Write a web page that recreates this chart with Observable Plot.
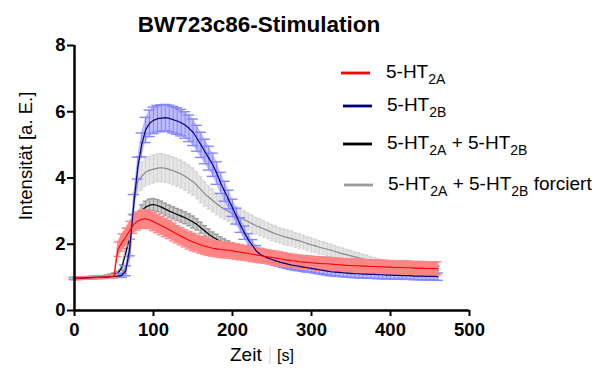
<!DOCTYPE html>
<html>
<head>
<meta charset="utf-8">
<script src="https://cdn.jsdelivr.net/npm/d3@7"></script>
<script src="https://cdn.jsdelivr.net/npm/@observablehq/plot@0.6"></script>
<style>
  html, body { margin: 0; padding: 0; background: #fff; }
  svg { display: block; }
</style>
</head>
<body>
<div id="chart"></div>
<script>
// ---- data ----
const titleText = "BW723c86-Stimulation";
const xTicks = [0, 100, 200, 300, 400, 500];
const yTicks = [0, 2, 4, 6, 8];
const seriesNames = ["5-HT2A", "5-HT2B", "5-HT2A + 5-HT2B", "5-HT2A + 5-HT2B forciert"];

const time = [
  0,5,10,15,20,25,30,35,40,45,
  50,55,60,65,70,75,80,85,90,95,
  100,105,110,115,120,125,130,135,140,145,
  150,155,160,165,170,175,180,185,190,195,
  200,205,210,215,220,225,230,235,240,245,
  250,255,260,265,270,275,280,285,290,295,
  300,305,310,315,320,325,330,335,340,345,
  350,355,360,365,370,375,380,385,390,395,
  400,405,410,415,420,425,430,435,440,445,
  450,455,460
];

// 5-HT2A (red)
const ht2a = [
  0.96,0.97,0.98,0.98,0.99,0.99,1.00,1.00,1.01,1.02,
  1.03,1.85,2.05,2.22,2.42,2.60,2.70,2.75,2.77,2.74,
  2.68,2.62,2.56,2.50,2.44,2.37,2.30,2.24,2.18,2.12,
  2.07,2.02,1.98,1.94,1.91,1.88,1.86,1.84,1.83,1.82,
  1.80,1.78,1.76,1.74,1.72,1.70,1.68,1.66,1.64,1.62,
  1.60,1.58,1.56,1.54,1.52,1.50,1.49,1.47,1.46,1.45,
  1.44,1.43,1.42,1.41,1.41,1.40,1.39,1.38,1.37,1.36,
  1.36,1.35,1.35,1.34,1.34,1.33,1.33,1.32,1.32,1.31,
  1.31,1.30,1.30,1.30,1.29,1.29,1.28,1.28,1.28,1.27,
  1.27,1.27,1.27
];
const ht2aErr = [
  0.04,0.04,0.04,0.04,0.04,0.04,0.04,0.04,0.04,0.04,
  0.05,0.22,0.26,0.27,0.27,0.27,0.27,0.27,0.27,0.27,
  0.27,0.27,0.27,0.27,0.27,0.27,0.26,0.26,0.26,0.26,
  0.26,0.25,0.25,0.25,0.25,0.24,0.24,0.24,0.24,0.23,
  0.23,0.23,0.23,0.22,0.22,0.22,0.22,0.22,0.21,0.21,
  0.21,0.21,0.21,0.21,0.20,0.20,0.20,0.20,0.20,0.20,
  0.20,0.20,0.20,0.20,0.20,0.20,0.20,0.20,0.20,0.20,
  0.20,0.20,0.20,0.20,0.20,0.20,0.20,0.20,0.20,0.20,
  0.20,0.20,0.20,0.20,0.20,0.20,0.20,0.20,0.20,0.20,
  0.20,0.20,0.20
];

// 5-HT2B (blue)
const ht2b = [
  0.97,0.98,0.98,0.99,0.99,1.00,1.00,1.01,1.01,1.02,
  1.03,1.04,1.06,1.20,1.90,3.20,4.30,5.00,5.45,5.65,
  5.74,5.79,5.81,5.82,5.80,5.76,5.72,5.67,5.60,5.50,
  5.38,5.20,5.00,4.80,4.60,4.40,4.15,3.85,3.60,3.35,
  3.10,2.85,2.58,2.35,2.14,1.97,1.80,1.70,1.63,1.58,
  1.54,1.50,1.46,1.43,1.40,1.37,1.35,1.33,1.31,1.29,
  1.27,1.25,1.23,1.21,1.19,1.17,1.16,1.15,1.14,1.13,
  1.12,1.11,1.11,1.10,1.10,1.09,1.09,1.08,1.08,1.07,
  1.07,1.06,1.06,1.05,1.05,1.05,1.04,1.04,1.04,1.03,
  1.03,1.03,1.02
];
const ht2bErr = [
  0.03,0.03,0.03,0.03,0.03,0.03,0.03,0.03,0.03,0.03,
  0.03,0.04,0.06,0.15,0.25,0.30,0.33,0.36,0.38,0.40,
  0.40,0.40,0.40,0.40,0.40,0.40,0.40,0.40,0.40,0.40,
  0.40,0.39,0.38,0.37,0.36,0.35,0.34,0.32,0.30,0.28,
  0.26,0.24,0.22,0.20,0.18,0.17,0.16,0.15,0.14,0.14,
  0.13,0.13,0.13,0.13,0.13,0.13,0.13,0.13,0.13,0.13,
  0.12,0.12,0.12,0.12,0.12,0.12,0.12,0.12,0.12,0.12,
  0.12,0.12,0.12,0.12,0.12,0.12,0.12,0.12,0.12,0.12,
  0.11,0.11,0.11,0.11,0.11,0.11,0.11,0.11,0.11,0.11,
  0.11,0.11,0.11
];

// 5-HT2A + 5-HT2B (black)
const both = [
  0.97,0.98,0.98,0.99,1.00,1.00,1.01,1.02,1.04,1.07,
  1.10,1.13,1.30,1.75,2.20,2.55,2.80,3.02,3.12,3.18,
  3.20,3.17,3.12,3.06,3.00,2.95,2.90,2.85,2.80,2.74,
  2.67,2.60,2.50,2.40,2.30,2.22,2.15,2.08,2.02,1.96,
  1.91,1.86,1.82,1.78,1.74,1.70,1.66,1.63,1.60,1.57,
  1.55,1.53,1.51,1.49,1.47,1.45,1.44,1.42,1.41,1.40,
  1.39,1.38,1.37,1.36,1.35,1.34,1.33,1.32,1.32,1.31,
  1.30,1.30,1.29,1.29,1.28,1.28,1.27,1.27,1.26,1.26,
  1.26,1.25,1.25,1.25,1.24,1.24,1.24,1.23,1.23,1.23,
  1.23,1.22,1.22
];
const bothErr = [
  0.03,0.03,0.03,0.03,0.03,0.03,0.03,0.03,0.03,0.03,
  0.04,0.05,0.08,0.12,0.14,0.15,0.16,0.17,0.18,0.18,
  0.18,0.18,0.18,0.18,0.18,0.18,0.18,0.18,0.18,0.18,
  0.18,0.17,0.17,0.16,0.16,0.15,0.15,0.14,0.14,0.14,
  0.13,0.13,0.13,0.13,0.13,0.13,0.13,0.13,0.13,0.13,
  0.12,0.12,0.12,0.12,0.12,0.12,0.12,0.12,0.12,0.12,
  0.12,0.12,0.12,0.12,0.12,0.12,0.12,0.12,0.12,0.12,
  0.12,0.12,0.12,0.12,0.12,0.12,0.12,0.12,0.12,0.12,
  0.12,0.12,0.12,0.12,0.12,0.12,0.12,0.12,0.12,0.12,
  0.12,0.12,0.12
];

// 5-HT2A + 5-HT2B forciert (grey)
const forced = [
  0.97,0.98,0.98,0.99,0.99,1.00,1.00,1.01,1.02,1.03,
  1.05,1.08,1.12,1.30,1.60,3.20,3.90,4.05,4.18,4.23,
  4.27,4.30,4.31,4.29,4.26,4.22,4.17,4.12,4.05,3.97,
  3.89,3.78,3.65,3.52,3.42,3.32,3.22,3.13,3.06,2.99,
  2.92,2.86,2.80,2.74,2.68,2.62,2.56,2.51,2.46,2.41,
  2.36,2.31,2.27,2.23,2.20,2.17,2.13,2.10,2.06,2.02,
  1.98,1.95,1.91,1.88,1.85,1.82,1.78,1.74,1.71,1.68,
  1.65,1.62,1.59,1.56,1.53,1.50,1.47,1.44,1.41,1.39,
  1.37,1.35,1.34,1.33,1.32,1.31,1.30,1.29,1.28,1.28,
  1.27,1.27,1.26
];
const forcedErr = [
  0.04,0.04,0.04,0.04,0.04,0.04,0.04,0.04,0.04,0.04,
  0.05,0.06,0.08,0.12,0.25,0.35,0.40,0.42,0.42,0.42,
  0.42,0.42,0.42,0.42,0.42,0.42,0.42,0.42,0.42,0.42,
  0.41,0.40,0.39,0.37,0.35,0.34,0.33,0.32,0.31,0.30,
  0.29,0.28,0.27,0.27,0.26,0.26,0.25,0.25,0.25,0.24,
  0.24,0.24,0.23,0.23,0.23,0.22,0.22,0.22,0.21,0.21,
  0.21,0.20,0.20,0.19,0.19,0.18,0.18,0.17,0.17,0.16,
  0.16,0.15,0.15,0.14,0.14,0.13,0.13,0.12,0.12,0.12,
  0.12,0.12,0.12,0.12,0.12,0.12,0.12,0.12,0.12,0.12,
  0.12,0.12,0.12
];

// ---- build tables ----
function table(vals, errs) {
  return time.map((t, i) => ({t, v: vals[i], lo: vals[i] - errs[i], hi: vals[i] + errs[i]}));
}
const redRows = table(ht2a, ht2aErr);
const blueRows = table(ht2b, ht2bErr);
const blackRows = table(both, bothErr);
const greyRows = table(forced, forcedErr);

function band(rows, color, fillOpacity, cap) {
  return [
    Plot.areaY(rows, {x: "t", y1: "lo", y2: "hi", fill: color, fillOpacity, curve: "linear"}),
    Plot.ruleX(rows, {x: "t", y1: "lo", y2: "hi", stroke: color, strokeWidth: 1}),
    Plot.ruleY(rows, {x1: d => d.t - cap, x2: d => d.t + cap, y: "hi", stroke: color, strokeWidth: 1.4}),
    Plot.ruleY(rows, {x1: d => d.t - cap, x2: d => d.t + cap, y: "lo", stroke: color, strokeWidth: 1.4})
  ];
}
function line(rows, color, w = 1.2) {
  return Plot.line(rows, {x: "t", y: "v", stroke: color, strokeWidth: w});
}

const FONT = "'Liberation Sans', Arial, Helvetica, sans-serif";

const svg = Plot.plot({
  width: 594,
  height: 372,
  marginLeft: 74,
  marginRight: 125,
  marginTop: 45,
  marginBottom: 62,
  style: {fontFamily: FONT, background: "#fff", color: "#000"},
  x: {domain: [0, 500]},
  y: {domain: [0, 8]},
  marks: [
    ...band(greyRows, "#d4d4d4", 0.6, 2),
    line(greyRows, "#8a8a8a"),
    ...band(blackRows, "#9a9a9a", 0.5, 3),
    line(blackRows, "#000000"),
    ...band(blueRows, "#8585ff", 0.55, 7),
    ...band(redRows, "#ff8585", 1, 5),
    line(blueRows, "#000080"),
    line(redRows, "#ff0000", 1.1),
    Plot.ruleX([0], {stroke: "#000", strokeWidth: 2.5}),
    Plot.ruleY([0], {stroke: "#000", strokeWidth: 2.5}),
    Plot.axisX({ticks: xTicks, tickSize: 6, tickPadding: 6, strokeWidth: 2,
      fontSize: 18.5, fontWeight: "bold", label: null}),
    Plot.axisY({ticks: yTicks, tickSize: 7, tickPadding: 2, strokeWidth: 2,
      fontSize: 18.5, fontWeight: "bold", label: null})
  ]
});

const s = d3.select(svg);

// title
s.append("text")
  .attr("x", 259).attr("y", 32)
  .attr("text-anchor", "middle")
  .attr("font-family", FONT).attr("font-size", 22.5).attr("font-weight", "bold")
  .attr("fill", "#000")
  .text(titleText);

// y label
s.append("text")
  .attr("transform", "translate(32,156) rotate(-90)")
  .attr("text-anchor", "middle")
  .attr("font-family", FONT).attr("font-size", 18.5)
  .attr("fill", "#000")
  .text("Intensität [a. E.]");

// x label
s.append("text")
  .attr("x", 230).attr("y", 361)
  .attr("text-anchor", "start")
  .attr("font-family", FONT).attr("font-size", 19)
  .attr("fill", "#000")
  .text("Zeit");
s.append("line")
  .attr("x1", 270).attr("x2", 270).attr("y1", 346).attr("y2", 364)
  .attr("stroke", "#cfcfcf").attr("stroke-width", 1);
s.append("text")
  .attr("x", 277).attr("y", 361)
  .attr("text-anchor", "start")
  .attr("font-family", FONT).attr("font-size", 16)
  .attr("fill", "#000")
  .text("[s]");

// legend
const legend = [
  {color: "#ff0000", ly: 73, x1: 341, tx: 386, parts: [["5-HT", 0], ["2A", 1]]},
  {color: "#000080", ly: 106, x1: 343, tx: 387, parts: [["5-HT", 0], ["2B", 1]]},
  {color: "#000000", ly: 144, x1: 343, tx: 387, parts: [["5-HT", 0], ["2A", 1], [" + 5-HT", 0], ["2B", 1]]},
  {color: "#9a9a9a", ly: 185, x1: 344, tx: 388, parts: [["5-HT", 0], ["2A", 1], [" + 5-HT", 0], ["2B", 1], [" forciert", 0]]}
];
legend.forEach(e => {
  s.append("line")
    .attr("x1", e.x1).attr("x2", e.x1 + 29)
    .attr("y1", e.ly).attr("y2", e.ly)
    .attr("stroke", e.color).attr("stroke-width", 2.8);
  const t = s.append("text")
    .attr("x", e.tx).attr("y", e.ly + 5)
    .attr("text-anchor", "start")
    .attr("font-family", FONT).attr("font-size", 19)
    .attr("fill", "#000")
    .attr("xml:space", "preserve");
  let sub = 0;
  e.parts.forEach(([txt, isSub]) => {
    const dy = isSub && !sub ? 6 : (!isSub && sub ? -6 : 0);
    t.append("tspan")
      .attr("dy", dy)
      .attr("font-size", isSub ? 14 : 19)
      .text(txt);
    sub = isSub;
  });
});

document.getElementById("chart").appendChild(svg);
</script>
</body>
</html>
